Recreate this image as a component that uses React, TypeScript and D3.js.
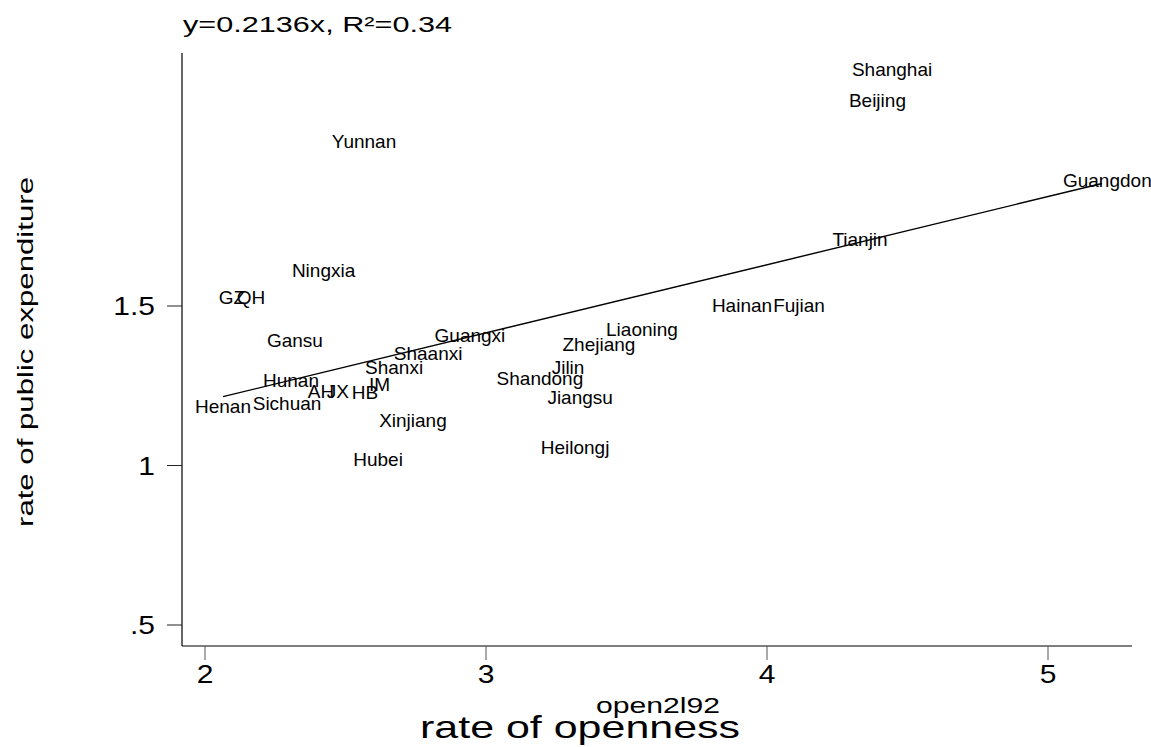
import React from "react";
import * as d3 from "d3";

const provinces = ["Shanghai","Beijing","Yunnan","Guangdong","Tianjin","Ningxia","GZ","QH","Gansu","Guangxi","Shaanxi","Shanxi","IM","Hunan","AH","JX","HB","Henan","Sichuan","Xinjiang","Hubei","Shandong","Jilin","Jiangsu","Heilongj","Zhejiang","Liaoning","Hainan","Fujian"];
const openness = [4.445,4.393,2.566,5.230,4.331,2.422,2.096,2.164,2.320,2.943,2.794,2.673,2.621,2.306,2.413,2.473,2.569,2.064,2.292,2.740,2.616,3.192,3.292,3.335,3.317,3.402,3.555,3.911,4.114];
const expenditure = [2.243,2.146,2.017,1.895,1.710,1.613,1.528,1.528,1.393,1.409,1.353,1.309,1.255,1.268,1.234,1.234,1.230,1.187,1.196,1.143,1.020,1.274,1.309,1.215,1.058,1.381,1.428,1.503,1.503];

const xTicks = [2, 3, 4, 5];
const xTickLabels = ["2", "3", "4", "5"];
const yTicks = [0.5, 1, 1.5];
const yTickLabels = [".5", "1", "1.5"];

const fitSlope = 0.2136;
const fitIntercept = 0.775;
const fitRange = [2.064, 5.192];

const titleText = "y=0.2136x, R\u00b2=0.34";
const xVarText = "open2l92";
const xTitleText = "rate of openness";
const yTitleText = "rate of public expenditure";

const FONT = "'Liberation Sans', Arial, Helvetica, sans-serif";

export default function App() {
  const W = 1151, H = 747;
  const plotLeft = 182, plotRight = 1132, plotTop = 53, plotBottom = 646;
  const x = d3.scaleLinear().domain([2, 5]).range([205, 1048]);
  const y = d3.scaleLinear().domain([0.5, 1.5]).range([625, 306]);
  const line = d3.line<number>().x((d) => x(d)).y((d) => y(fitIntercept + fitSlope * d));

  return (
    <svg width={W} height={H} style={{ position: "absolute", left: 0, top: 0, background: "#fff" }} fontFamily={FONT}>
      <rect x={0} y={0} width={W} height={H} fill="#fff" />
      {/* axes */}
      <line x1={plotLeft} x2={plotLeft} y1={plotTop} y2={plotBottom} stroke="#000" strokeWidth={1.2} />
      <line x1={plotLeft} x2={plotRight} y1={plotBottom} y2={plotBottom} stroke="#000" strokeWidth={1.2} />
      {yTicks.map((t, i) => (
        <g key={"y" + i}>
          <line x1={plotLeft - 15} x2={plotLeft} y1={y(t)} y2={y(t)} stroke="#222" strokeWidth={1} />
          <text transform={`translate(155,${y(t)}) scale(1.2,1)`} textAnchor="end" dy="0.36em" fontSize={25} fill="#000">{yTickLabels[i]}</text>
        </g>
      ))}
      {xTicks.map((t, i) => (
        <g key={"x" + i}>
          <line x1={x(t)} x2={x(t)} y1={plotBottom} y2={plotBottom + 14} stroke="#555" strokeWidth={1} />
          <text transform={`translate(${x(t)},683) scale(1.2,1)`} textAnchor="middle" fontSize={25} fill="#000">{xTickLabels[i]}</text>
        </g>
      ))}
      {/* fit line */}
      <path d={line(fitRange) || ""} fill="none" stroke="#000" strokeWidth={1.4} />
      {/* labels */}
      {provinces.map((p, i) => (
        <text key={p} x={x(openness[i])} y={y(expenditure[i])} dy="0.36em" textAnchor="middle" fontSize={19} fill="#000">{p}</text>
      ))}
      {/* titles */}
      <text x={183} y={32} fontSize={22} textLength={269} lengthAdjust="spacingAndGlyphs" fill="#000">{titleText}</text>
      <text x={658} y={713} fontSize={22} textAnchor="middle" textLength={124} lengthAdjust="spacingAndGlyphs" fill="#000">{xVarText}</text>
      <text x={580} y={738} fontSize={32} textAnchor="middle" textLength={320} lengthAdjust="spacingAndGlyphs" fill="#000">{xTitleText}</text>
      <text transform="translate(33,352) rotate(-90)" fontSize={22} textAnchor="middle" textLength={350} lengthAdjust="spacingAndGlyphs" fill="#000">{yTitleText}</text>
    </svg>
  );
}
